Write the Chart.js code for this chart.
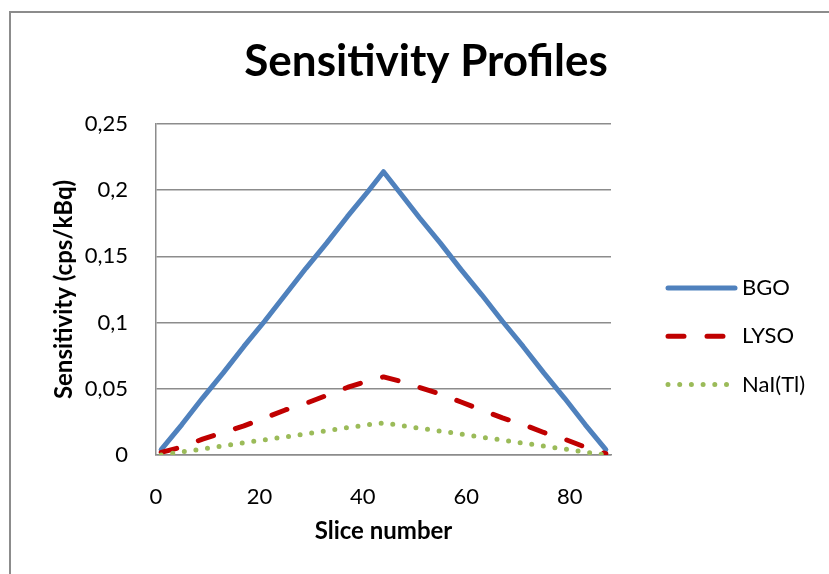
<!DOCTYPE html>
<html>
<head>
<meta charset="utf-8">
<title>Sensitivity Profiles</title>
<script src="https://cdn.jsdelivr.net/npm/chart.js@4/dist/chart.umd.min.js"></script>
<style>
  html, body { margin: 0; padding: 0; background: #fff; overflow: hidden; }
  #wrap { position: relative; width: 829px; height: 574px; }
  #frame {
    position: absolute; left: 9px; top: 11px; width: 900px; height: 700px;
    border: 2px solid #8c8c8c; pointer-events: none;
  }
</style>
</head>
<body>
<div id="wrap">
  <canvas id="myChart"></canvas>
  <div id="frame"></div>
</div>
<script>
// slice positions where the profiles were sampled
const slices = [1, 5, 9, 13, 17, 21, 25, 29, 33, 37, 41, 44, 47, 51, 55, 59, 63, 67, 71, 75, 79, 83, 87];

// sensitivity in cps/kBq
const bgo  = [0.004, 0.023, 0.043, 0.062, 0.082, 0.101, 0.121, 0.141, 0.160, 0.180, 0.199, 0.214,
              0.199, 0.179, 0.160, 0.140, 0.121, 0.101, 0.082, 0.062, 0.043, 0.023, 0.004];
const lyso = [0.002, 0.006, 0.012, 0.017, 0.022, 0.028, 0.034, 0.039, 0.045, 0.051, 0.056, 0.059,
              0.056, 0.051, 0.046, 0.040, 0.034, 0.028, 0.023, 0.017, 0.012, 0.006, 0.001];
const nai  = [0.0, 0.0023, 0.0046, 0.0069, 0.0092, 0.0115, 0.0137, 0.016, 0.0183, 0.0206, 0.0229, 0.0242,
              0.0225, 0.0202, 0.018, 0.0158, 0.0135, 0.0113, 0.009, 0.0067, 0.0045, 0.0022, 0.0];

const seriesNames = ['BGO', 'LYSO', 'NaI(Tl)'];
const yTicks = { min: 0, max: 0.25, step: 0.05 };
const xTicks = { min: 0, max: 88, step: 20 };

const GRID = '#8c8c8c';
const FONT = 'Lato';

function points(values) {
  return slices.map((s, i) => ({ x: s, y: values[i] }));
}

// legend on the right, kept as its own layout box so the title stays centred on the whole chart
const sideLegend = {
  id: 'sideLegend',
  beforeInit(chart) {
    const box = {
      position: 'right',
      weight: 100,
      fullSize: false,
      options: {},
      left: 0, top: 0, right: 0, bottom: 0, width: 0, height: 0,
      isHorizontal() { return false; },
      update(maxWidth, maxHeight) {
        this.width = 218;
        this.height = maxHeight;
      },
      draw() {
        const ctx = chart.ctx;
        chart.data.datasets.forEach((ds, i) => {
          const y = this.top + 164 + i * 48.3;
          const x0 = this.left + 57;
          ctx.save();
          ctx.strokeStyle = ds.borderColor;
          ctx.lineWidth = ds.borderWidth;
          ctx.lineCap = 'round';
          ctx.setLineDash(ds.borderDash || []);
          ctx.beginPath();
          ctx.moveTo(x0, y);
          ctx.lineTo(x0 + 67, y);
          ctx.stroke();
          ctx.setLineDash([]);
          ctx.fillStyle = '#000';
          ctx.font = '22px ' + FONT;
          ctx.textAlign = 'left';
          ctx.textBaseline = 'middle';
          ctx.fillText(ds.label, x0 + 74, y);
          ctx.restore();
        });
      }
    };
    Chart.layouts.addBox(chart, box);
  }
};

const lineStyle = {
  borderWidth: 5,
  borderCapStyle: 'round',
  borderJoinStyle: 'round',
  pointRadius: 0,
  pointHoverRadius: 0,
  fill: false,
  tension: 0
};

var myChart = new Chart(document.getElementById('myChart'), {
  type: 'line',
  data: {
    datasets: [
      Object.assign({ label: seriesNames[0], data: points(bgo), borderColor: '#4f81bd', order: 3 }, lineStyle),
      Object.assign({ label: seriesNames[1], data: points(lyso), borderColor: '#c00000', borderDash: [16, 23], order: 2 }, lineStyle),
      Object.assign({ label: seriesNames[2], data: points(nai), borderColor: '#9bbb59', borderDash: [0, 11.7], order: 1 }, lineStyle)
    ]
  },
  options: {
    responsive: true,
    maintainAspectRatio: false,
    animation: false,
    layout: { padding: { left: 23, right: 0, top: 0, bottom: 0 } },
    plugins: {
      legend: { display: false },
      tooltip: { enabled: false },
      title: {
        display: true,
        text: 'Sensitivity Profiles',
        color: '#000',
        font: { family: FONT, size: 44, weight: 'bold', lineHeight: 1.2 },
        padding: { top: 35, bottom: 36.2 }
      }
    },
    scales: {
      x: {
        type: 'linear',
        min: xTicks.min,
        max: xTicks.max,
        afterFit(scale) { scale.height = 119; },
        grid: { display: false },
        border: { display: true, color: GRID, width: 1.5 },
        ticks: {
          stepSize: xTicks.step,
          includeBounds: false,
          padding: 21,
          maxRotation: 0,
          color: '#000',
          font: { family: FONT, size: 22 }
        },
        title: {
          display: true,
          text: 'Slice number',
          color: '#000',
          font: { family: FONT, size: 24, weight: 'bold' },
          padding: { top: 0, bottom: 28 }
        }
      },
      y: {
        min: yTicks.min,
        max: yTicks.max,
        afterFit(scale) { scale.width = 133; },
        grid: { color: GRID, lineWidth: 1.5, drawTicks: false },
        border: { display: true, color: GRID, width: 1.5 },
        ticks: {
          stepSize: yTicks.step,
          padding: 28,
          color: '#000',
          font: { family: FONT, size: 22 },
          callback: v => v.toLocaleString('de-DE')
        },
        title: {
          display: true,
          text: 'Sensitivity (cps/kBq)',
          color: '#000',
          font: { family: FONT, size: 24, weight: 'bold' },
          padding: { top: 26.6, bottom: 0 }
        }
      }
    }
  },
  plugins: [sideLegend]
});
</script>
</body>
</html>
